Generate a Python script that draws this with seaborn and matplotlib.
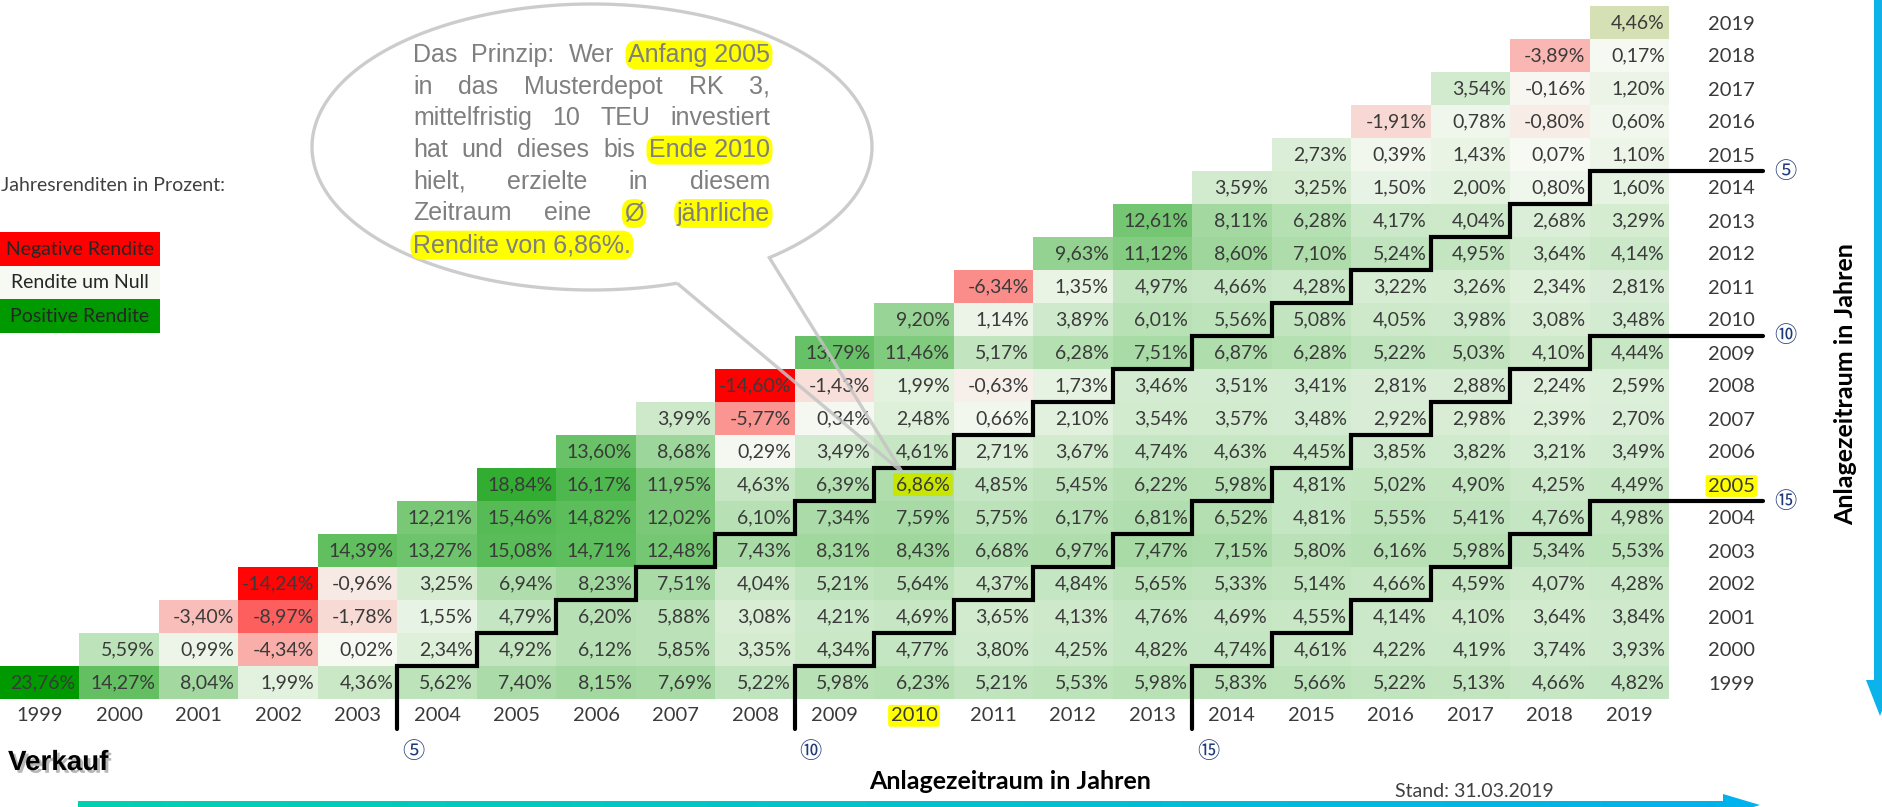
import numpy as np
import pandas as pd
import seaborn as sns
import matplotlib.pyplot as plt
import matplotlib.patheffects as pe
from matplotlib.colors import LinearSegmentedColormap, ListedColormap
from matplotlib.patches import Rectangle, PathPatch, Polygon
from matplotlib.path import Path

years = list(range(1999, 2020))

# Ø jährliche Rendite in %, je Kaufjahr (Anfang) für Verkauf Ende Kaufjahr ... Ende 2019
ret_1999 = [23.76, 14.27, 8.04, 1.99, 4.36, 5.62, 7.40, 8.15, 7.69, 5.22, 5.98, 6.23, 5.21, 5.53, 5.98, 5.83, 5.66, 5.22, 5.13, 4.66, 4.82]
ret_2000 = [5.59, 0.99, -4.34, 0.02, 2.34, 4.92, 6.12, 5.85, 3.35, 4.34, 4.77, 3.80, 4.25, 4.82, 4.74, 4.61, 4.22, 4.19, 3.74, 3.93]
ret_2001 = [-3.40, -8.97, -1.78, 1.55, 4.79, 6.20, 5.88, 3.08, 4.21, 4.69, 3.65, 4.13, 4.76, 4.69, 4.55, 4.14, 4.10, 3.64, 3.84]
ret_2002 = [-14.24, -0.96, 3.25, 6.94, 8.23, 7.51, 4.04, 5.21, 5.64, 4.37, 4.84, 5.65, 5.33, 5.14, 4.66, 4.59, 4.07, 4.28]
ret_2003 = [14.39, 13.27, 15.08, 14.71, 12.48, 7.43, 8.31, 8.43, 6.68, 6.97, 7.47, 7.15, 5.80, 6.16, 5.98, 5.34, 5.53]
ret_2004 = [12.21, 15.46, 14.82, 12.02, 6.10, 7.34, 7.59, 5.75, 6.17, 6.81, 6.52, 4.81, 5.55, 5.41, 4.76, 4.98]
ret_2005 = [18.84, 16.17, 11.95, 4.63, 6.39, 6.86, 4.85, 5.45, 6.22, 5.98, 4.81, 5.02, 4.90, 4.25, 4.49]
ret_2006 = [13.60, 8.68, 0.29, 3.49, 4.61, 2.71, 3.67, 4.74, 4.63, 4.45, 3.85, 3.82, 3.21, 3.49]
ret_2007 = [3.99, -5.77, 0.34, 2.48, 0.66, 2.10, 3.54, 3.57, 3.48, 2.92, 2.98, 2.39, 2.70]
ret_2008 = [-14.60, -1.43, 1.99, -0.63, 1.73, 3.46, 3.51, 3.41, 2.81, 2.88, 2.24, 2.59]
ret_2009 = [13.79, 11.46, 5.17, 6.28, 7.51, 6.87, 6.28, 5.22, 5.03, 4.10, 4.44]
ret_2010 = [9.20, 1.14, 3.89, 6.01, 5.56, 5.08, 4.05, 3.98, 3.08, 3.48]
ret_2011 = [-6.34, 1.35, 4.97, 4.66, 4.28, 3.22, 3.26, 2.34, 2.81]
ret_2012 = [9.63, 11.12, 8.60, 7.10, 5.24, 4.95, 3.64, 4.14]
ret_2013 = [12.61, 8.11, 6.28, 4.17, 4.04, 2.68, 3.29]
ret_2014 = [3.59, 3.25, 1.50, 2.00, 0.80, 1.60]
ret_2015 = [2.73, 0.39, 1.43, 0.07, 1.10]
ret_2016 = [-1.91, 0.78, -0.80, 0.60]
ret_2017 = [3.54, -0.16, 1.20]
ret_2018 = [-3.89, 0.17]
ret_2019 = [4.46]

horizons = [5, 10, 15]
example_buy, example_sell = 2005, 2010
stand = "Stand: 31.03.2019"

rows = {1999: ret_1999, 2000: ret_2000, 2001: ret_2001, 2002: ret_2002, 2003: ret_2003,
        2004: ret_2004, 2005: ret_2005, 2006: ret_2006, 2007: ret_2007, 2008: ret_2008,
        2009: ret_2009, 2010: ret_2010, 2011: ret_2011, 2012: ret_2012, 2013: ret_2013,
        2014: ret_2014, 2015: ret_2015, 2016: ret_2016, 2017: ret_2017, 2018: ret_2018,
        2019: ret_2019}

df = pd.DataFrame(np.nan, index=years[::-1], columns=years)
for buy, vals in rows.items():
    df.loc[buy, buy:years[-1]] = vals

labels = df.map(lambda v: '' if pd.isna(v) else f'{v:.2f}%'.replace('.', ','))

vmin, vmax = np.nanmin(df.values), np.nanmax(df.values)
zero = -vmin / (vmax - vmin)
cmap = LinearSegmentedColormap.from_list(
    'rendite', [(0, '#ff0000'), (zero, '#f7f9f3'), (1, '#009900')])

sns.set_style('white')
plt.rcParams['font.family'] = ['Lato', 'DejaVu Sans']
txt_col = '#3a3a3a'

W, H = 1883, 807
fig = plt.figure(figsize=(W / 100, H / 100), dpi=100)
ax = fig.add_axes([0, 1 - 699 / H, 1669 / W, 693 / H])

sns.heatmap(df, mask=df.isna(), cmap=cmap, vmin=vmin, vmax=vmax, annot=labels.values, fmt='',
            cbar=False, ax=ax, linewidths=0,
            annot_kws=dict(fontsize=14, color=txt_col))

# aktuelles Jahr (nur Q1) in eigener Farbe
current = pd.DataFrame(False, index=df.index, columns=df.columns)
current.loc[years[-1], years[-1]] = True
sns.heatmap(df, mask=~current, cmap=ListedColormap(['#d6e0b5']), cbar=False, ax=ax)

# Zahlen rechtsbündig wie in Excel
for t in ax.texts:
    x, y = t.get_position()
    t.set_x(x + 0.45)
    t.set_ha('right')
    if abs(x - (example_sell - years[0] + 0.5)) < 0.01 and abs(y - (years[-1] - example_buy + 0.5)) < 0.01:
        t.set_bbox(dict(boxstyle='round,pad=0.15', fc='#c8e600', ec='none'))

ax.set_xlabel('')
ax.set_ylabel('')
ax.yaxis.tick_right()
ax.tick_params(axis='both', length=0, labelsize=14.5, colors=txt_col)
ax.tick_params(axis='x', pad=6)
ax.tick_params(axis='y', pad=28)
for lbl in ax.get_xticklabels():
    lbl.set_rotation(0)
    if lbl.get_text() == str(example_sell):
        lbl.set_bbox(dict(boxstyle='round,pad=0.12', fc='#ffff00', ec='none'))
for lbl in ax.get_yticklabels():
    lbl.set_rotation(0)
    lbl.set_ha('left')
    if lbl.get_text() == str(example_buy):
        lbl.set_bbox(dict(boxstyle='round,pad=0.12', fc='#ffff00', ec='none'))

# Treppenlinien für 5, 10, 15 Jahre Anlagezeitraum
n = len(years)
mark_font = ['Noto Sans CJK JP', 'DejaVu Sans']
for h in horizons:
    xs, ys = [h], [n + 0.9]
    for buy in range(years[0], years[-1] - h + 1):
        x = buy + h - years[0]
        ytop = years[-1] - buy
        xs += [x, x, x + 1]
        ys += [ytop + 1, ytop, ytop]
    xs[-1] = n + 1.18
    ax.plot(xs, ys, color='black', lw=3, solid_joinstyle='miter', clip_on=False, zorder=4)
    mark = chr(0x2460 + h - 1)
    ax.text(h + 0.2, n + 1.6, mark, fontsize=16, color='#1f3a7a', ha='center', va='center',
            family=mark_font, clip_on=False)
    ax.text(n + 1.46, h, mark, fontsize=16, color='#1f3a7a', ha='center', va='center',
            family=mark_font, clip_on=False)

# Overlay in Pixelkoordinaten
ov = fig.add_axes([0, 0, 1, 1], zorder=5)
ov.patch.set_alpha(0)
ov.axis('off')

# Legende
ov.text(1, 191, 'Jahresrenditen in Prozent:', fontsize=14, color='#404040', va='baseline')
legend_items = [('Negative Rendite', cmap(0.0), 232), ('Rendite um Null', cmap(zero), 266),
                ('Positive Rendite', cmap(1.0), 299)]
for txt, col, top in legend_items:
    ov.add_patch(Rectangle((0, top), 160, 33.5, fc=col, ec='none'))
    ov.text(80, top + 17, txt, fontsize=14, color='#262626', ha='center', va='center')

# Sprechblase
cx, cy, a, b = 592, 147, 280, 143
tip = ax.transData.transform((example_sell - years[0] + 0.35, years[-1] - example_buy + 0.12))
tip = (tip[0], H - tip[1])
t = np.radians(np.linspace(72.3, 410.7, 200))
pts = list(zip(cx + a * np.cos(t), cy + b * np.sin(t)))
pts.append(tip)
pts.append(pts[0])
ov.add_patch(PathPatch(Path(pts), fc='none', ec='#c4c4c4', lw=2.4, alpha=0.85, zorder=3))

bubble_lines = [
    [('Das', False), ('Prinzip:', False), ('Wer', False), ('Anfang 2005', True)],
    [('in', False), ('das', False), ('Musterdepot', False), ('RK', False), ('3,', False)],
    [('mittelfristig', False), ('10', False), ('TEU', False), ('investiert', False)],
    [('hat', False), ('und', False), ('dieses', False), ('bis', False), ('Ende 2010', True)],
    [('hielt,', False), ('erzielte', False), ('in', False), ('diesem', False)],
    [('Zeitraum', False), ('eine', False), ('Ø', True), ('jährliche', True)],
    [('Rendite von 6,86%.', True)],
]
renderer = fig.canvas.get_renderer()
x0, x1 = 413, 770
for k, line in enumerate(bubble_lines):
    y = 62 + k * 31.7
    items = []
    for word, hl in line:
        tx = ov.text(x0, y, word, fontsize=18, family=['Liberation Sans', 'DejaVu Sans'],
                     color='#7f7f7f', va='baseline', ha='left', zorder=4)
        if hl:
            tx.set_bbox(dict(boxstyle='round,pad=0.1,rounding_size=0.45', fc='#ffff00', ec='none'))
        items.append(tx)
    widths = [it.get_window_extent(renderer).width for it in items]
    if k < len(bubble_lines) - 1 and len(items) > 1:
        gap = (x1 - x0 - sum(widths)) / (len(items) - 1)
    else:
        gap = 6
    x = x0
    for it, w in zip(items, widths):
        it.set_x(x)
        x += w + gap

# Achsentitel
ov.text(8, 770, 'Verkauf', fontsize=20, fontweight='bold', family=['Liberation Sans', 'DejaVu Sans'],
        color='black', va='baseline',
        path_effects=[pe.withSimplePatchShadow(offset=(2, -2), shadow_rgbFace='#888888', alpha=0.6)])
ov.text(1010, 789, 'Anlagezeitraum in Jahren', fontsize=18, fontweight='bold', color='black',
        ha='center', va='baseline')
ov.text(1846, 384, 'Anlagezeitraum in Jahren', fontsize=18, fontweight='bold', color='black',
        ha='center', va='center', rotation=90)
ov.text(1395, 797, stand, fontsize=14, color='#404040', va='baseline')

# Pfeile
arrow_cmap = LinearSegmentedColormap.from_list('arrow', ['#00d2b0', '#00b2ee'])
arrow_h = Polygon([(78, 801), (1723, 801), (1723, 794), (1760, 805), (1723, 816), (1723, 809), (78, 809)],
                  closed=True, fc='none', ec='none')
ov.add_patch(arrow_h)
im = ov.imshow(np.linspace(0, 1, 256)[None, :], extent=(78, 1760, 816, 794), cmap=arrow_cmap,
               aspect='auto', zorder=2)
im.set_clip_path(arrow_h)
ov.add_patch(Polygon([(1874, 0), (1888, 0), (1888, 680), (1894, 680), (1880, 716), (1866, 680), (1874, 680)],
                     closed=True, fc='#0cb2ea', ec='none'))

ov.set_xlim(0, W)
ov.set_ylim(H, 0)

fig.savefig('out.png', dpi=100)
